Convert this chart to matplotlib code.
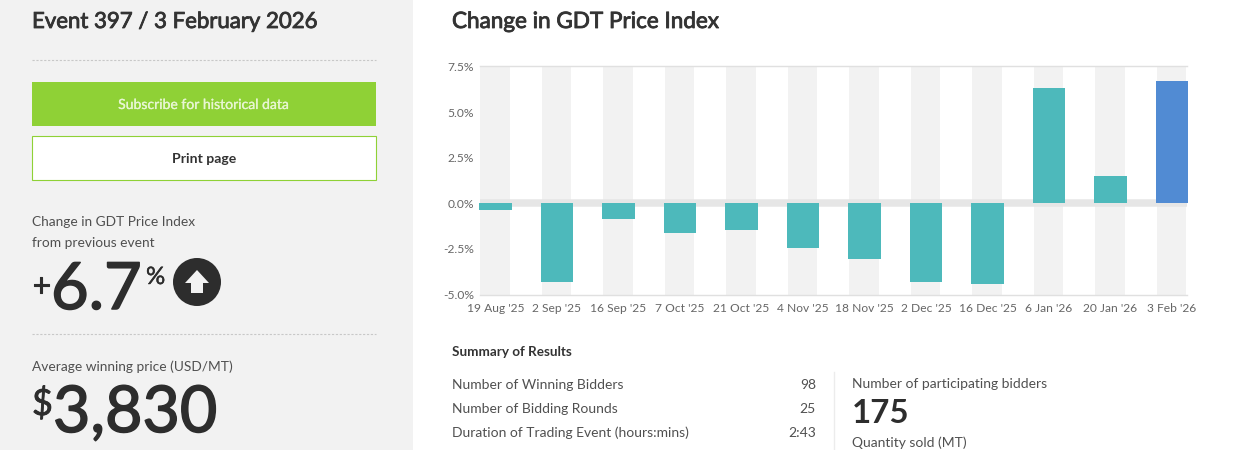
import matplotlib
matplotlib.use("Agg")
import matplotlib.pyplot as plt
import matplotlib.patheffects as pe
from matplotlib.patches import Rectangle, Circle, Polygon

plt.rcParams['font.family'] = ['Lato', 'DejaVu Sans']

dates = ["19 Aug '25", "2 Sep '25", "16 Sep '25", "7 Oct '25", "21 Oct '25", "4 Nov '25",
         "18 Nov '25", "2 Dec '25", "16 Dec '25", "6 Jan '26", "20 Jan '26", "3 Feb '26"]
changes = [-0.35, -4.3, -0.85, -1.65, -1.45, -2.45, -3.05, -4.3, -4.4, 6.3, 1.5, 6.7]
y_ticks = [-5.0, -2.5, 0.0, 2.5, 5.0, 7.5]
summary_labels = ["Number of Winning Bidders", "Number of Bidding Rounds",
                  "Duration of Trading Event (hours:mins)"]
summary_values = ["98", "25", "2:43"]

W, H = 1250, 450
TEAL, BLUE = '#4db9bb', '#518bd3'
DARK, MID, TICK = '#2d2d2d', '#505050', '#666666'
px = 0.72  # points per pixel at dpi 100

fig = plt.figure(figsize=(W / 100, H / 100), dpi=100, facecolor='white')

# page layer in pixel coordinates
pg = fig.add_axes([0, 0, 1, 1], zorder=0)
pg.set_xlim(0, W); pg.set_ylim(H, 0); pg.axis('off')

def t(x, y, s, size, color=MID, weight='normal', ha='left', va='baseline', thick=0):
    txt = pg.text(x, y, s, fontsize=size * px, color=color, fontweight=weight, ha=ha, va=va)
    if thick:
        txt.set_path_effects([pe.withStroke(linewidth=thick, foreground=color)])

pg.add_patch(Rectangle((0, 0), 413, H, fc='#f2f2f2', ec='none'))
t(32, 28, "Event 397 / 3 February 2026", 22.2, '#333333', thick=0.6)
t(452, 28, "Change in GDT Price Index", 22.5, '#333333', thick=0.6)
for y in (59.5, 333.5):
    pg.plot([32, 376], [y, y], color='#c8c8c8', lw=0.8, ls=(0, (2, 1.5)))
pg.add_patch(Rectangle((32, 82), 344, 44, fc='#8fd136', ec='none'))
t(204, 109, "Subscribe for historical data", 14, '#e8f6d2', ha='center', thick=0.2)
pg.add_patch(Rectangle((32, 135.5), 344, 44, fc='white', ec='#8fd136', lw=0.8))
t(204, 163, "Print page", 14, '#333333', 'bold', ha='center')
t(32, 226, "Change in GDT Price Index", 13.8)
t(32, 247, "from previous event", 13.8)
t(32, 296, "+", 32, DARK, thick=0.8)
t(51, 309, "6.7", 65, DARK, thick=1.1)
t(146, 284, "%", 24, DARK, thick=0.3)
pg.add_patch(Circle((197, 282), 24, fc=DARK, ec='none'))
pg.add_patch(Polygon([(197, 270), (209, 283), (203, 283), (203, 293), (191, 293), (191, 283), (185, 283)],
                     fc='#f2f2f2', ec='none'))
t(32, 371, "Average winning price (USD/MT)", 13.7)
t(32, 415, "$", 36, DARK, thick=0.6)
t(53, 432, "3,830", 64.5, DARK, thick=1.1)

t(452, 356, "Summary of Results", 13.5, '#333333', 'bold')
for y, lab, val in zip((389, 413, 437), summary_labels, summary_values):
    t(452, y, lab, 13.85)
    t(816, y, val, 13.85, ha='right')
pg.plot([834, 834], [372, H], color='#ececec', lw=1)
t(852, 388, "Number of participating bidders", 13.9)
t(852, 423, "175", 33, DARK, 'bold')
t(852, 447, "Quantity sold (MT)", 13.9)

# chart
L, R, T, B = 479.5, 1187, 66.5, 294.5
ax = fig.add_axes([L / W, 1 - B / H, (R - L) / W, (B - T) / H], zorder=1)
ax.patch.set_alpha(0)
x = list(range(len(changes)))
ax.set_xlim(-0.26, 11.245)
ax.set_ylim(-5, 7.5)
for i in x:
    ax.axvspan(i - 0.25, i + 0.23, color='#f2f2f2', lw=0, zorder=1)
ax.axhline(0, color='#e6e6e6', lw=7.5 * px, zorder=2)
ax.bar(x, changes, width=0.53, color=[TEAL] * 11 + [BLUE], zorder=3, clip_on=False)
for s in ('left', 'right'):
    ax.spines[s].set_visible(False)
for s in ('top', 'bottom'):
    ax.spines[s].set_color('#e0e0e0'); ax.spines[s].set_linewidth(1)
ax.set_xticks(x, dates)
ax.set_yticks(y_ticks, [f"{v:.1f}%" for v in y_ticks])
ax.tick_params(length=0, labelsize=12 * px, labelcolor=TICK)
ax.tick_params(axis='x', pad=6)
ax.tick_params(axis='y', pad=4)

fig.savefig("out.png", dpi=100, facecolor='white')
